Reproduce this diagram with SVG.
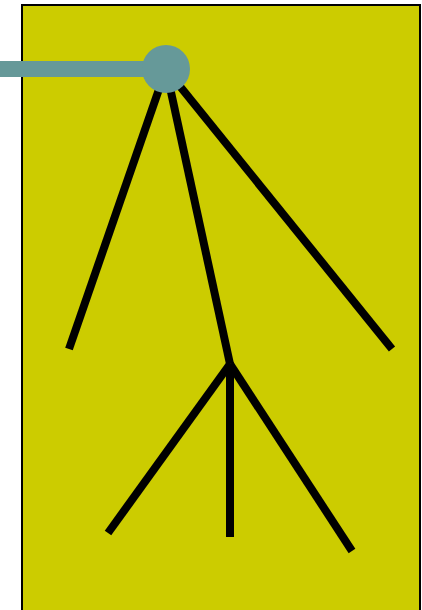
<svg xmlns="http://www.w3.org/2000/svg" width="422" height="610" viewBox="0 0 422 610">
<style>
.frame{fill:#cccc00;stroke:#000;stroke-width:2}
.edge{stroke:#000;stroke-width:8;fill:none}
.teal{fill:#669999}
</style>
<rect x="0" y="0" width="422" height="610" fill="#fff"/>
<g id="frame"><rect class="frame" x="22" y="5" width="398" height="612"/></g>
<g id="connectors">
<line class="edge" x1="166" y1="69" x2="69" y2="349"/>
<line class="edge" x1="166" y1="69" x2="230" y2="364"/>
<line class="edge" x1="166" y1="69" x2="392" y2="349"/>
<line class="edge" x1="230" y1="364" x2="108" y2="533"/>
<line class="edge" x1="230" y1="364" x2="230" y2="537"/>
<line class="edge" x1="230" y1="364" x2="352" y2="551"/>
</g>
<g id="bar"><rect class="teal" x="0" y="61" width="166" height="16"/></g>
<g id="hub"><circle class="teal" cx="166" cy="69" r="24"/></g>
</svg>
